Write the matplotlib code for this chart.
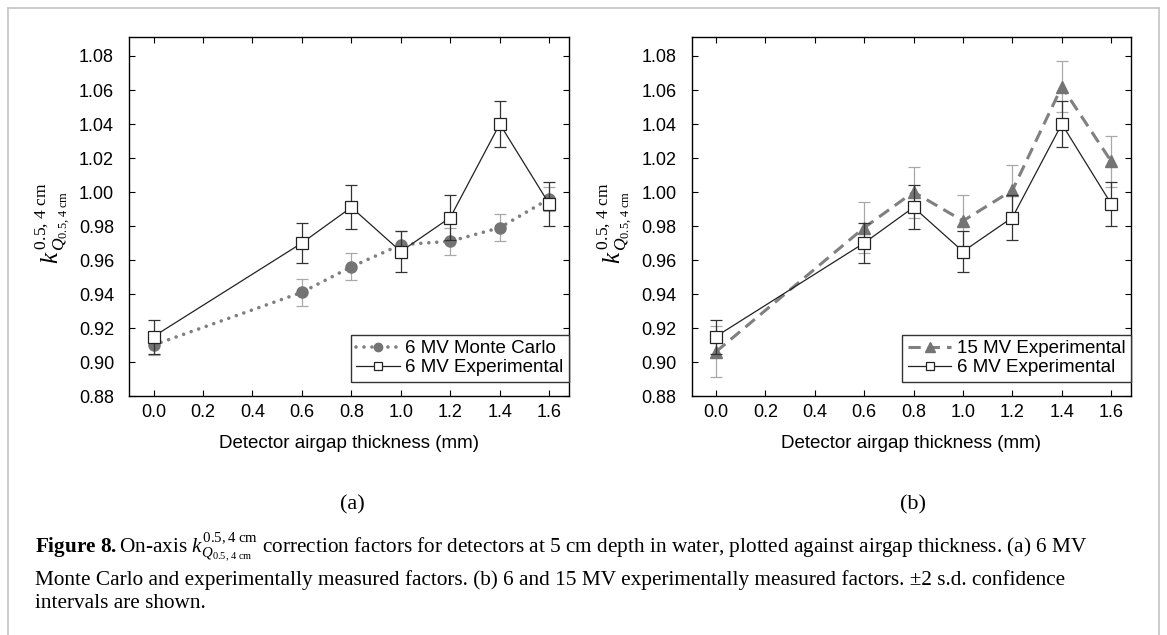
import numpy as np
import matplotlib
matplotlib.use('Agg')
import matplotlib.pyplot as plt
from matplotlib.lines import Line2D

plt.rcParams['font.family'] = 'Liberation Sans'
plt.rcParams['mathtext.fontset'] = 'custom'
plt.rcParams['mathtext.rm'] = 'Liberation Serif'
plt.rcParams['mathtext.it'] = 'Liberation Serif:italic'
plt.rcParams['mathtext.bf'] = 'Liberation Serif:bold'

# airgap thickness (mm) and correction factors, +-2 s.d.
airgap = [0.0, 0.6, 0.8, 1.0, 1.2, 1.4, 1.6]
mc_6mv = [0.910, 0.941, 0.956, 0.969, 0.971, 0.979, 0.996]
mc_6mv_err = [0.006, 0.008, 0.008, 0.008, 0.008, 0.008, 0.007]
exp_6mv = [0.915, 0.970, 0.991, 0.965, 0.985, 1.040, 0.993]
exp_6mv_err = [0.010, 0.012, 0.013, 0.012, 0.013, 0.0135, 0.013]
exp_15mv = [0.906, 0.979, 1.000, 0.983, 1.001, 1.062, 1.018]
exp_15mv_err = [0.015, 0.015, 0.015, 0.015, 0.015, 0.015, 0.015]

x_ticks = [0.0, 0.2, 0.4, 0.6, 0.8, 1.0, 1.2, 1.4, 1.6]
y_ticks = [0.88, 0.90, 0.92, 0.94, 0.96, 0.98, 1.00, 1.02, 1.04, 1.06, 1.08]

W, H = 1167, 635
GRAY = '#747474'
LIGHT = '#a8a8a8'

fig = plt.figure(figsize=(W / 100, H / 100), dpi=100)


def px_box(left, top, right, bottom):
    return [left / W, 1 - bottom / H, (right - left) / W, (bottom - top) / H]


def style_axes(ax):
    ax.set_xlim(-0.098, 1.68)
    ax.set_ylim(0.88, 1.091)
    ax.set_xticks(x_ticks)
    ax.set_yticks(y_ticks)
    ax.set_xticklabels(['%.1f' % v for v in x_ticks])
    ax.set_yticklabels(['%.2f' % v for v in y_ticks])
    ax.tick_params(direction='in', top=True, right=True, length=4.5,
                   width=0.8, labelsize=13)
    ax.tick_params(axis='y', pad=11)
    ax.tick_params(axis='x', pad=6)
    for s in ax.spines.values():
        s.set_linewidth(1.0)
    ax.set_xlabel('Detector airgap thickness (mm)', fontsize=13.5, labelpad=10)
    ax.text(-0.175, 0.482,
            r'$k^{\,0.5,\,4\ \mathrm{cm}}_{\,Q_{0.5,\,4\ \mathrm{cm}}}$',
            transform=ax.transAxes, rotation=90, ha='center', va='center',
            fontsize=18)


def exp_series(ax, label):
    ax.errorbar(airgap, exp_6mv, yerr=exp_6mv_err, fmt='none', ecolor='#333333',
                elinewidth=0.9, capsize=4, capthick=0.9, zorder=4)
    ax.plot(airgap, exp_6mv, color='#222222', lw=0.9, marker='s', ms=8,
            mfc='white', mec='#222222', mew=0.9, label=label, zorder=5)


def add_legend(ax):
    ax.legend(loc='lower right', bbox_to_anchor=(1.0, 0.039), borderaxespad=0,
              fontsize=13.5, handlelength=2.3, handletextpad=0.3,
              labelspacing=0.1, borderpad=0.3, markerscale=0.75,
              fancybox=False, framealpha=1, edgecolor='#333333')


# (a) Monte Carlo vs experimental, 6 MV
ax1 = fig.add_axes(px_box(129.3, 37.3, 569, 396))
ax1.errorbar(airgap, mc_6mv, yerr=mc_6mv_err, fmt='none', ecolor=LIGHT,
             elinewidth=0.9, capsize=4, capthick=0.9, zorder=2)
ax1.plot(airgap, mc_6mv, color='#808080', lw=2.6, ls=(0, (0.01, 2.2)),
         dash_capstyle='round', marker='o', ms=8, mfc=GRAY, mec=GRAY,
         label='6 MV Monte Carlo', zorder=3)
exp_series(ax1, '6 MV Experimental')
style_axes(ax1)
add_legend(ax1)

# (b) 15 MV vs 6 MV experimental
ax2 = fig.add_axes(px_box(691.7, 37.3, 1131, 396))
ax2.errorbar(airgap, exp_15mv, yerr=exp_15mv_err, fmt='none', ecolor=LIGHT,
             elinewidth=0.9, capsize=4, capthick=0.9, zorder=2)
ax2.plot(airgap, exp_15mv, color='#808080', lw=2.2, ls=(0, (4, 2.3)),
         marker='^', ms=9, mfc=GRAY, mec=GRAY, label='15 MV Experimental',
         zorder=3)
exp_series(ax2, '6 MV Experimental')
style_axes(ax2)
add_legend(ax2)

# panel letters
serif = 'Liberation Serif'
fig.text(352 / W, 1 - 505 / H, '(a)', family=serif, fontsize=16,
         ha='center', va='center')
fig.text(913 / W, 1 - 505 / H, '(b)', family=serif, fontsize=16,
         ha='center', va='center')

# caption
cap_x = 35 / W
cap_size = 15.3
fig.text(cap_x, 1 - 553 / H,
         r'$\mathbf{Figure\ 8.}$On-axis $k^{0.5,4\ \mathrm{cm}}_{Q_{0.5,\,4\ \mathrm{cm}}}$'
         ' correction factors for detectors at 5 cm depth in water, plotted against'
         ' airgap thickness. (a) 6 MV',
         family=serif, fontsize=cap_size, va='baseline')
fig.text(cap_x, 1 - 585 / H,
         'Monte Carlo and experimentally measured factors. (b) 6 and 15 MV'
         ' experimentally measured factors. \u00b12 s.d. confidence',
         family=serif, fontsize=cap_size, va='baseline')
fig.text(cap_x, 1 - 608 / H, 'intervals are shown.',
         family=serif, fontsize=cap_size, va='baseline')

# light frame around the figure
frame = dict(color='#c8c8c8', lw=1.3, transform=fig.transFigure)
fig.add_artist(Line2D([7.5 / W, 7.5 / W], [0, 1 - 8 / H], **frame))
fig.add_artist(Line2D([7.5 / W, 1159 / W], [1 - 8 / H, 1 - 8 / H], **frame))
fig.add_artist(Line2D([1159 / W, 1159 / W], [0, 1 - 8 / H], **frame))

fig.savefig('out.png', dpi=100)
